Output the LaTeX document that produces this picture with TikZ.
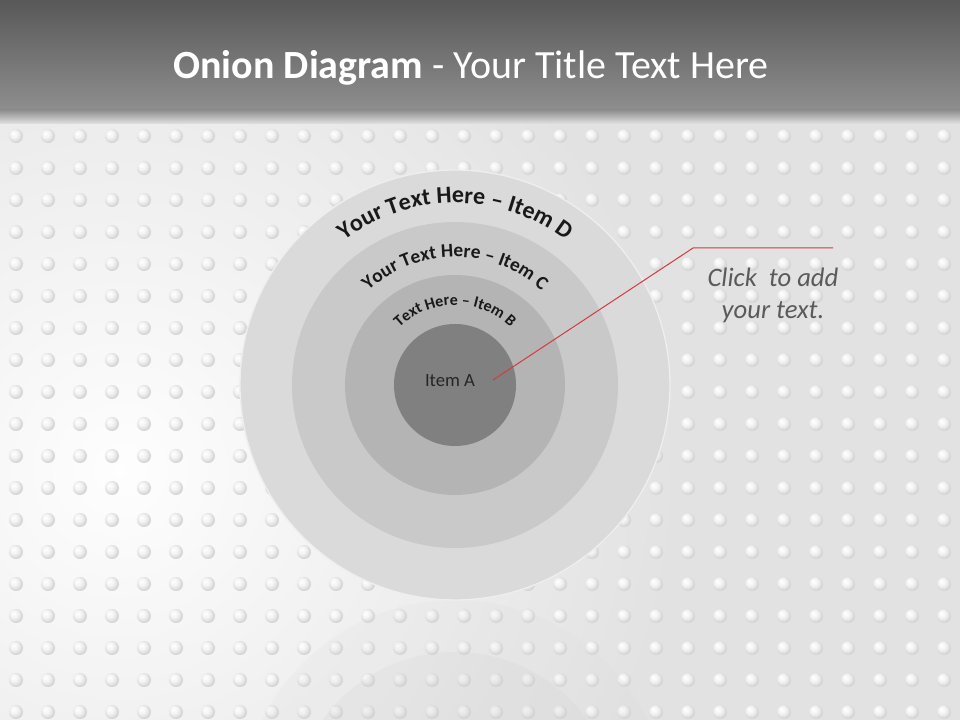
\documentclass[tikz,border=0pt]{standalone}
\usepackage{fontspec}
\setmainfont{Carlito}
\usetikzlibrary{decorations.text}

\definecolor{bgGray}{RGB}{226,226,226}
\definecolor{barTop}{RGB}{88,88,88}
\definecolor{barBottom}{RGB}{142,142,142}
\definecolor{ringD}{RGB}{218,218,218}
\definecolor{ringC}{RGB}{201,201,201}
\definecolor{ringB}{RGB}{180,180,180}
\definecolor{ringA}{RGB}{128,128,128}
\definecolor{calloutRed}{RGB}{214,58,64}
\definecolor{noteGray}{RGB}{90,90,90}

\pgfdeclareradialshading{dotball}{\pgfpoint{-10bp}{10bp}}{color(0bp)=(white); color(14bp)=(white!95!black); color(34bp)=(white!76!black); color(50bp)=(white!80!black)}

\begin{document}
\begin{tikzpicture}[x=0.75pt,y=0.75pt,
    ring/.style={circle,inner sep=0pt,draw=none},
    curved/.style={decorate,decoration={text along path,text align=center,text color=black!90}}]

\useasboundingbox (0,0) rectangle (960,720);

% Background
\fill[bgGray] (0,0) rectangle (960,720);
\shade[inner color=white!96!bgGray, outer color=bgGray] (120,250) circle (560);

% Dots
\foreach \i in {0,...,29}
  \foreach \j in {0,...,18}
    \shade[shading=dotball] (16+32*\i,584-32*\j) circle (7);

% Title bar
\shade[top color=barTop, bottom color=barBottom] (0,610) rectangle (960,720);
\shade[top color=barBottom, bottom color=bgGray] (0,596) rectangle (960,610);
\node[text=white, font=\fontsize{30}{36}\selectfont] (title) at (471,652)
  {\textbf{Onion Diagram} - Your Title Text Here};

% Reflection
\begin{scope}[opacity=0.15]
\fill[ringD] (455,-95) circle (215);
\fill[ringC] (455,-95) circle (163);
\end{scope}

% Rings
\node[ring, fill=ringD, draw=white!55!ringD, line width=1pt, minimum size=322.5pt] (itemD) at (455,335) {};
\node[ring, fill=ringC, minimum size=244.5pt] (itemC) at (455,335) {};
\node[ring, fill=ringB, minimum size=165pt] (itemB) at (455,335) {};
\node[ring, fill=ringA, minimum size=91.5pt] (itemA) at (455,335) {};
\node[text=black!85, font=\fontsize{14}{16}\selectfont] (labelA) at (450,339) {Item A};

% Ring labels
\path[curved, decoration={text={|\fontsize{18}{21}\bfseries\selectfont|Your Text Here – Item D}}]
  (itemD.center) ++(180:182) arc (180:0:182);
\path[curved, decoration={text={|\fontsize{14.5}{17}\bfseries\selectfont|Your Text Here – Item C}}]
  (itemC.center) ++(180:128) arc (180:0:128);
\path[curved, decoration={text={|\fontsize{12}{14}\bfseries\selectfont|Text Here – Item B}}]
  (itemB.center) ++(180:80) arc (180:0:80);

% Callout
\node[font=\itshape\fontsize{20}{24}\selectfont, text=noteGray, align=center] (note) at (773,425)
  {Click\ \ to add\\your text.};
\coordinate (tip) at (493,340);
\coordinate (elbow) at (693,472);
\coordinate (lineEnd) at (833,472);
\draw[calloutRed, line width=0.75pt] (tip) -- (elbow) -- (lineEnd);
\end{tikzpicture}
\end{document}
